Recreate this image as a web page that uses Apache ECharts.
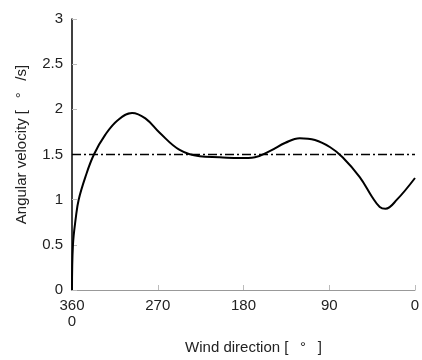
<!DOCTYPE html>
<html>
<head>
<meta charset="utf-8">
<script src="https://cdn.jsdelivr.net/npm/echarts@6/dist/echarts.min.js"></script>
<style>
html, body { margin: 0; padding: 0; background: #fff; }
#chart { width: 422px; height: 360px; }
</style>
</head>
<body>
<div id="chart"></div>
<script>
// wind direction (deg) and angular velocity (deg/s)
const windDir = [360, 359, 356, 353, 346, 337, 325, 312, 297, 283, 268, 247, 226, 205, 184, 168, 152, 136, 121, 105, 89, 76, 58, 45, 37, 31, 19, 0];
const angVel = [0, 0.5, 0.8, 1.0, 1.25, 1.5, 1.72, 1.88, 1.96, 1.9, 1.74, 1.55, 1.48, 1.47, 1.46, 1.47, 1.54, 1.63, 1.68, 1.66, 1.58, 1.47, 1.25, 1.03, 0.92, 0.9, 1.0, 1.24];
const refLevel = 1.5;
const xTicks = [0, 90, 180, 270, 360];
const yTicks = [0, 0.5, 1, 1.5, 2, 2.5, 3];

const chart = echarts.init(document.getElementById("chart"));
const font = "Liberation Sans";

chart.setOption({
    animation: false,
    grid: { left: 72, right: 7, top: 19, bottom: 70, outerBoundsMode: "none" },
    xAxis: {
        type: "value",
        inverse: true,
        min: xTicks[0],
        max: xTicks[xTicks.length - 1],
        interval: 90,
        name: "Wind direction [ \u2002°\u2002 ]",
        nameLocation: "middle",
        nameGap: 50,
        nameTextStyle: { fontFamily: font, fontSize: 15, color: "#222", padding: [0, 0, 0, 20] },
        axisLine: { onZero: false, lineStyle: { color: "#999", width: 1 } },
        axisTick: { inside: true, length: 5, lineStyle: { color: "#bbb" } },
        axisLabel: {
            fontFamily: font, fontSize: 15, color: "#222", margin: 8, lineHeight: 16,
            formatter: v => v === 360 ? "360\n0" : String(v)
        },
        splitLine: { show: false }
    },
    yAxis: {
        type: "value",
        position: "left",
        min: yTicks[0],
        max: yTicks[yTicks.length - 1],
        interval: 0.5,
        name: "Angular velocity [ \u2002°\u2002 /s]",
        nameLocation: "middle",
        nameGap: 43,
        nameTextStyle: { fontFamily: font, fontSize: 15, color: "#222", padding: [0, 0, 0, 20] },
        axisLine: { show: true, onZero: false, lineStyle: { color: "#000", width: 1.5 } },
        axisTick: { inside: true, length: 5, lineStyle: { color: "#bbb" } },
        axisLabel: { fontFamily: font, fontSize: 15, color: "#222", margin: 9 },
        splitLine: { show: false }
    },
    series: [
        {
            type: "line",
            data: [[360, refLevel], [0, refLevel]],
            symbol: "none",
            lineStyle: { color: "#000", width: 1.5, type: [9, 3, 2, 3] },
            z: 1
        },
        {
            type: "line",
            data: windDir.map((d, i) => [d, angVel[i]]),
            smooth: 0.4,
            symbol: "none",
            lineStyle: { color: "#000", width: 2 },
            z: 2
        }
    ]
});
</script>
</body>
</html>
